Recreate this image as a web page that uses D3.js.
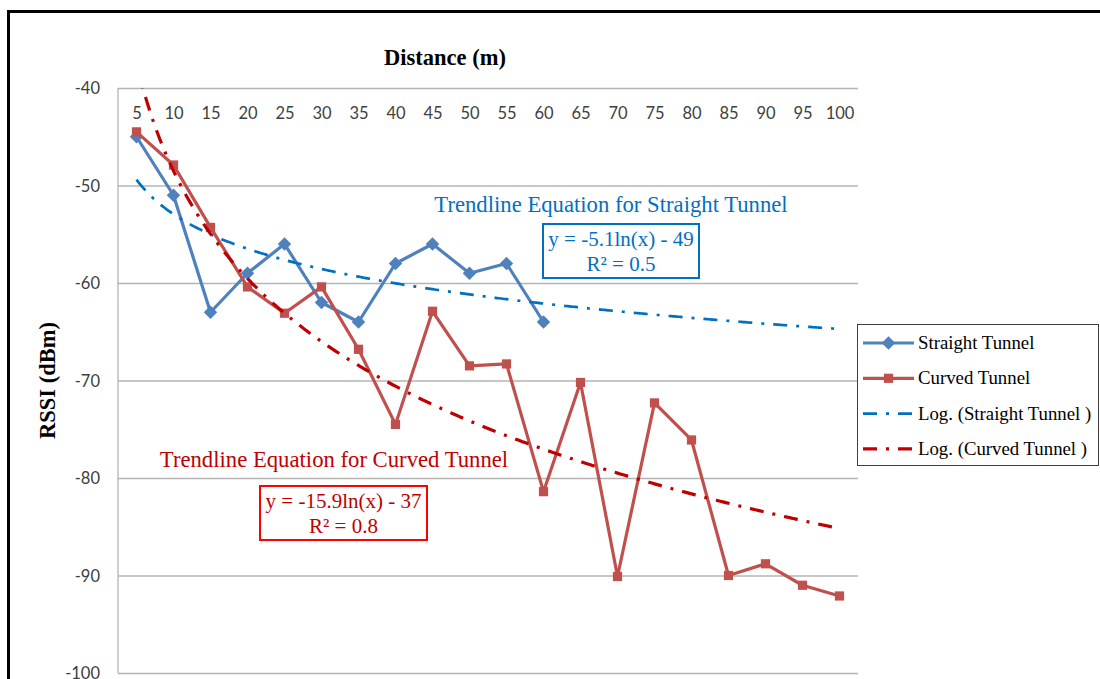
<!DOCTYPE html>
<html lang="en">
<head>
	<meta charset="utf-8">
	<title>RSSI vs distance</title>
	<script src="https://cdn.jsdelivr.net/npm/d3@7"></script>
	<style>
		body { margin: 0; background: #fff; }
		.cat text, .ylab text { font-family: Lato, "Open Sans", sans-serif; font-size: 16.5px; fill: #404040; }
		.serif { font-family: "Liberation Serif", "Times New Roman", serif; }
	</style>
</head>
<body>
<script>
// distances (m) along the category axis
const categories = [5, 10, 15, 20, 25, 30, 35, 40, 45, 50, 55, 60, 65, 70, 75, 80, 85, 90, 95, 100];
// RSSI readings (dBm)
const straightTunnel = [-45, -51, -63, -59, -56, -62, -64, -58, -56, -59, -58, -64];
const curvedTunnel = [-44.5, -47.9, -54.3, -60.4, -63.1, -60.4, -66.8, -74.5, -62.9, -68.5, -68.3, -81.4,
	-70.2, -90.1, -72.3, -76.1, -90.0, -88.8, -91.0, -92.1];
const yTicks = [-40, -50, -60, -70, -80, -90, -100];
// trendline labels as printed on the chart
const straightEq = ["y = -5.1ln(x) - 49", "R² = 0.5"];
const curvedEq = ["y = -15.9ln(x) - 37", "R² = 0.8"];

const W = 1100, H = 679;
const pLeft = 118, pRight = 858, pTop = 88, pBottom = 673;

const svg = d3.select("body").append("svg")
	.attr("width", W).attr("height", H);

// outer frame (runs off the right / bottom of the picture)
svg.append("rect")
	.attr("x", 8.5).attr("y", 11.5)
	.attr("width", 1300).attr("height", 900)
	.attr("fill", "none").attr("stroke", "#000").attr("stroke-width", 3);

const x = d3.scalePoint().domain(categories).range([pLeft, pRight]).padding(0.5);
const y = d3.scaleLinear().domain([-100, -40]).range([pBottom, pTop]);
// numeric position used by Excel's trendline (1..n)
const xIdx = d3.scaleLinear().domain([1, categories.length])
	.range([x(categories[0]), x(categories[categories.length - 1])]);

// gridlines
svg.append("g")
	.attr("transform", `translate(${pLeft},0)`)
	.call(d3.axisLeft(y).tickValues(yTicks).tickSize(-(pRight - pLeft)).tickFormat(""))
	.call(g => g.select(".domain").remove())
	.call(g => g.selectAll("line").attr("stroke", "#b4b4b4").attr("stroke-width", 1.3));

// left axis line
svg.append("line")
	.attr("x1", pLeft).attr("x2", pLeft).attr("y1", pTop).attr("y2", pBottom)
	.attr("stroke", "#b4b4b4").attr("stroke-width", 1.3);

// y labels
svg.append("g").attr("class", "ylab")
	.attr("transform", `translate(${pLeft},0)`)
	.call(d3.axisLeft(y).tickValues(yTicks).tickSize(0).tickPadding(18).tickFormat(d => String(d)))
	.call(g => g.select(".domain").remove())
	.call(g => g.selectAll("text").attr("dy", "0.35em"));

// category labels (sit just under the top edge)
svg.append("g").attr("class", "cat")
	.attr("transform", `translate(0,${pTop})`)
	.call(d3.axisBottom(x).tickSize(0).tickPadding(19))
	.call(g => g.select(".domain").remove());

// titles
svg.append("text").attr("class", "serif")
	.attr("x", 445).attr("y", 65)
	.attr("text-anchor", "middle")
	.attr("font-size", 22.5).attr("font-weight", "bold")
	.text("Distance (m)");

svg.append("text").attr("class", "serif")
	.attr("transform", `translate(55,${(pTop + pBottom) / 2}) rotate(-90)`)
	.attr("text-anchor", "middle")
	.attr("font-size", 22.5).attr("font-weight", "bold")
	.text("RSSI (dBm)");

// least squares fit y = a*ln(i) + b
function logFit(vals) {
	const lx = vals.map((v, i) => Math.log(i + 1));
	const mx = d3.mean(lx), my = d3.mean(vals);
	const a = d3.sum(lx, (l, i) => (l - mx) * (vals[i] - my)) / d3.sum(lx, l => (l - mx) * (l - mx));
	return { a: a, b: my - a * mx };
}

svg.append("clipPath").attr("id", "plot")
	.append("rect").attr("x", pLeft).attr("y", pTop)
	.attr("width", pRight - pLeft).attr("height", pBottom - pTop);

const line = d3.line().x((d, i) => x(categories[i])).y(d => y(d));
const diamond = d3.symbol(d3.symbolDiamond2, 115);
const square = d3.symbol(d3.symbolSquare, 85);

// series
const series = [
	{ name: "Straight Tunnel", vals: straightTunnel, color: "#4f81bd", marker: "diamond" },
	{ name: "Curved Tunnel", vals: curvedTunnel, color: "#c0504d", marker: "square" }
];

series.forEach(s => {
	svg.append("path")
		.attr("d", line(s.vals))
		.attr("fill", "none")
		.attr("stroke", s.color)
		.attr("stroke-width", 3.2)
		.attr("stroke-linejoin", "round");

	svg.append("g").selectAll("path")
		.data(s.vals)
		.join("path")
		.attr("transform", (d, i) => `translate(${x(categories[i])},${y(d)})`)
		.attr("d", s.marker === "diamond" ? diamond : square)
		.attr("fill", s.color);
});

// trendlines
const trends = [
	{ name: "Log. (Straight Tunnel )", fit: logFit(straightTunnel), color: "#0070c0", width: 2.7 },
	{ name: "Log. (Curved Tunnel )", fit: logFit(curvedTunnel), color: "#c00000", width: 3.2 }
];
const samples = d3.range(1, categories.length + 0.001, 0.05);

trends.forEach(t => {
	svg.append("path")
		.attr("clip-path", "url(#plot)")
		.attr("d", d3.line()
			.x(v => xIdx(v))
			.y(v => y(t.fit.a * Math.log(v) + t.fit.b))(samples))
		.attr("fill", "none")
		.attr("stroke", t.color)
		.attr("stroke-width", t.width)
		.attr("stroke-dasharray", "14,9,3,9");
});

// trendline annotations
function annotate(title, eq, color, boxColor, tx, ty, box) {
	svg.append("text").attr("class", "serif")
		.attr("x", tx).attr("y", ty)
		.attr("text-anchor", "middle")
		.attr("font-size", 22.7)
		.attr("fill", color)
		.text(title);
	svg.append("rect")
		.attr("x", box[0]).attr("y", box[1])
		.attr("width", box[2]).attr("height", box[3])
		.attr("fill", "#fff").attr("stroke", boxColor).attr("stroke-width", 2);
	svg.append("g").selectAll("text")
		.data(eq)
		.join("text").attr("class", "serif")
		.attr("x", box[0] + box[2] / 2)
		.attr("y", (d, i) => box[1] + 22 + i * 25)
		.attr("text-anchor", "middle")
		.attr("font-size", 21)
		.attr("fill", color)
		.text(d => d);
}
annotate("Trendline Equation for Straight Tunnel", straightEq, "#0070c0", "#0070c0",
	611, 212, [543, 224, 156, 54]);
annotate("Trendline Equation for Curved Tunnel", curvedEq, "#c00000", "#ff0000",
	334, 467, [260, 486, 167, 54]);

// legend
const legend = svg.append("g").attr("transform", "translate(857.5,324.5)");
legend.append("rect")
	.attr("width", 241).attr("height", 141)
	.attr("fill", "#fff").attr("stroke", "#404040").attr("stroke-width", 1);

const legendItems = [
	{ name: series[0].name, color: series[0].color, marker: "diamond", dash: null, w: 3.2 },
	{ name: series[1].name, color: series[1].color, marker: "square", dash: null, w: 3.2 },
	{ name: trends[0].name, color: trends[0].color, marker: null, dash: "14,9,3,9", w: 2.7 },
	{ name: trends[1].name, color: trends[1].color, marker: null, dash: "14,9,3,9", w: 3.2 }
];

const item = legend.selectAll(".item")
	.data(legendItems)
	.join("g").attr("class", "item")
	.attr("transform", (d, i) => `translate(0,${18.5 + i * 35.3})`);

item.append("line")
	.attr("x1", 5.5).attr("x2", 56.5)
	.attr("stroke", d => d.color)
	.attr("stroke-width", d => d.w)
	.attr("stroke-dasharray", d => d.dash);

item.filter(d => d.marker)
	.append("path")
	.attr("transform", "translate(31,0)")
	.attr("d", d => d.marker === "diamond" ? diamond() : square())
	.attr("fill", d => d.color);

item.append("text").attr("class", "serif")
	.attr("x", 60.5).attr("y", 6)
	.attr("font-size", 18.8)
	.attr("fill", "#000")
	.text(d => d.name);
</script>
</body>
</html>
